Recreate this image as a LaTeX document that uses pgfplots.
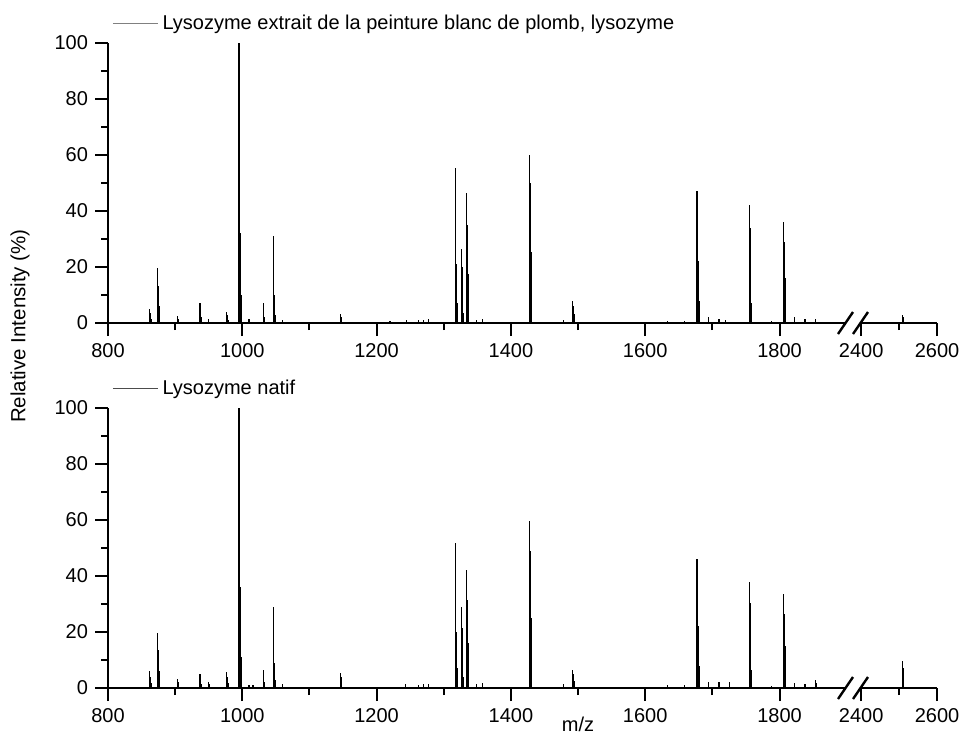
\documentclass[border=0pt]{standalone}
\usepackage{fontspec}
\setmainfont{Liberation Sans}
\usepackage{pgfplots}
\pgfplotsset{compat=1.18}

% spectra: m/z and relative intensity, isotope sticks typed out
\pgfplotstableread{
x y
862 5
863 3.4
864 1.5
874 19.5
875 13.3
876 5.9
877 2
904 2.5
905 1.5
937 7
938 4.8
939 2.1
950 1.5
977 4
978 2.7
979 1.2
995 100
996 71
997 32
998 10
1010 1.5
1031 7
1032 4.8
1033 2.2
1046 31
1047 18
1048 10
1049 3
1060 1
1146 3.2
1147 2.2
1148 1
1220 0.6
1245 1
1262 1
1270 1.2
1277 1.5
1317 55.5
1318 41.5
1319 21
1320 7
1326 26.5
1327 20
1328 10
1329 3.5
1334 46.5
1335 35
1336 17.5
1337 6
1349 1
1358 1.3
1428 60
1429 50
1430 25.5
1431 9
1478 1.2
1492 8
1493 6.2
1494 3.2
1495 1.2
1633 0.8
1659 0.8
1677 47
1678 37
1679 22
1680 8
1694 2
1710 1.5
1720 1
1755 42
1756 34
1757 19
1758 7
1788 0.7
1806 36
1807 29
1808 16
1809 6
1822 2
1838 1.5
1854 1.5
2510 3
2511 2.2
}\plomb

\pgfplotstableread{
x y
862 6
863 4
864 1.8
874 19.8
875 13.5
876 6
877 2
904 3.1
905 2
937 5
938 3.4
939 1.5
950 2.3
951 1.4
977 5.8
978 4
979 1.7
995 100
996 72
997 36
998 11
1010 1
1016 1
1031 6.4
1032 4.4
1033 2
1046 29
1047 17
1048 9
1049 3
1060 1.5
1090 0.5
1146 5.5
1147 3.8
1148 1.6
1243 1.3
1262 1.2
1270 1.5
1277 1.5
1317 51.7
1318 39
1319 20
1320 7
1326 28.8
1327 21.5
1328 11
1329 4
1334 42.1
1335 31.5
1336 16
1337 5.5
1349 1.3
1358 1.8
1428 59.6
1429 49
1430 25
1431 9
1478 1.5
1492 6.4
1493 5
1494 2.5
1495 1
1633 1
1659 1
1677 46
1678 34
1679 22
1680 8
1694 2
1710 2.3
1725 2.3
1755 38
1756 30.5
1757 17
1758 6.5
1788 0.8
1806 33.4
1807 26.5
1808 15
1809 5.5
1822 1.8
1838 1.3
1854 2.8
1855 1.8
2510 9.7
2511 7
2512 3.5
}\natif

\pgfplotsset{
  spec/.style={
    scale only axis, height=140pt, anchor=south west,
    ymin=0, ymax=100, clip=false,
    axis x line*=bottom,
    axis line style={line width=1.2pt},
    tick style={line width=1pt, black},
    tick align=outside,
    major tick length=6.5pt, minor tick length=3.5pt,
    ticklabel style={font=\fontsize{10}{12}\selectfont},
    /pgf/number format/assume math mode=true,
    /pgf/number format/1000 sep={},
  },
  leftpart/.style={spec,
    width=368.5pt, xmin=800, xmax=1897.5,
    restrict x to domain=800:1900,
    axis y line*=left,
    xtick={800,1000,...,1800}, minor xtick={900,1100,...,1700},
    ytick={0,20,...,100}, minor ytick={10,30,...,90},
    legend style={at={(axis description cs:0.0054,1.07)}, anchor=west,
      draw=none, fill=none, inner sep=0pt,
      font=\fontsize{10}{12}\selectfont},
  },
  rightpart/.style={spec,
    width=38.5pt, xmin=2397, xmax=2600,
    restrict x to domain=2390:2610,
    axis y line=none,
    xtick={2400,2600}, minor xtick={2500},
  },
}

\begin{document}
\begin{tikzpicture}
\useasboundingbox (0,0) rectangle (481.5pt,-367.5pt);

% top panel
\begin{axis}[leftpart, at={(54pt,-161.5pt)}]
\addlegendimage{legend image code/.code={\draw[black!50, line width=0.6pt] (0pt,0pt) -- (22.5pt,0pt);}}
\addlegendentry{Lysozyme extrait de la peinture blanc de plomb, lysozyme}
\addplot[ycomb, black, line width=0.6pt, forget plot] table {\plomb};
\end{axis}
\begin{axis}[rightpart, at={(430pt,-161.5pt)}]
\addplot[ycomb, black, line width=0.6pt] table {\plomb};
\end{axis}

% bottom panel
\begin{axis}[leftpart, at={(54pt,-344pt)}]
\addlegendimage{legend image code/.code={\draw[black!70, line width=0.6pt] (0pt,0pt) -- (22.5pt,0pt);}}
\addlegendentry{Lysozyme natif}
\addplot[ycomb, black, line width=0.6pt, forget plot] table {\natif};
\end{axis}
\begin{axis}[rightpart, at={(430pt,-344pt)}]
\addplot[ycomb, black, line width=0.6pt] table {\natif};
\end{axis}

% axis breaks
\foreach \yy in {-161.5pt,-344pt}{
  \draw[line width=1.2pt] (422.75pt,\yy) ++(-3.75pt,-5.5pt) -- ++(7.5pt,11pt);
  \draw[line width=1.2pt] (430.25pt,\yy) ++(-3.75pt,-5.5pt) -- ++(7.5pt,11pt);
}

\node[rotate=90, font=\fontsize{10.25}{12}\selectfont] at (10pt,-163pt) {Relative Intensity (\%)};
\node[font=\fontsize{10}{12}\selectfont] at (289pt,-362pt) {m/z};
\end{tikzpicture}
\end{document}
